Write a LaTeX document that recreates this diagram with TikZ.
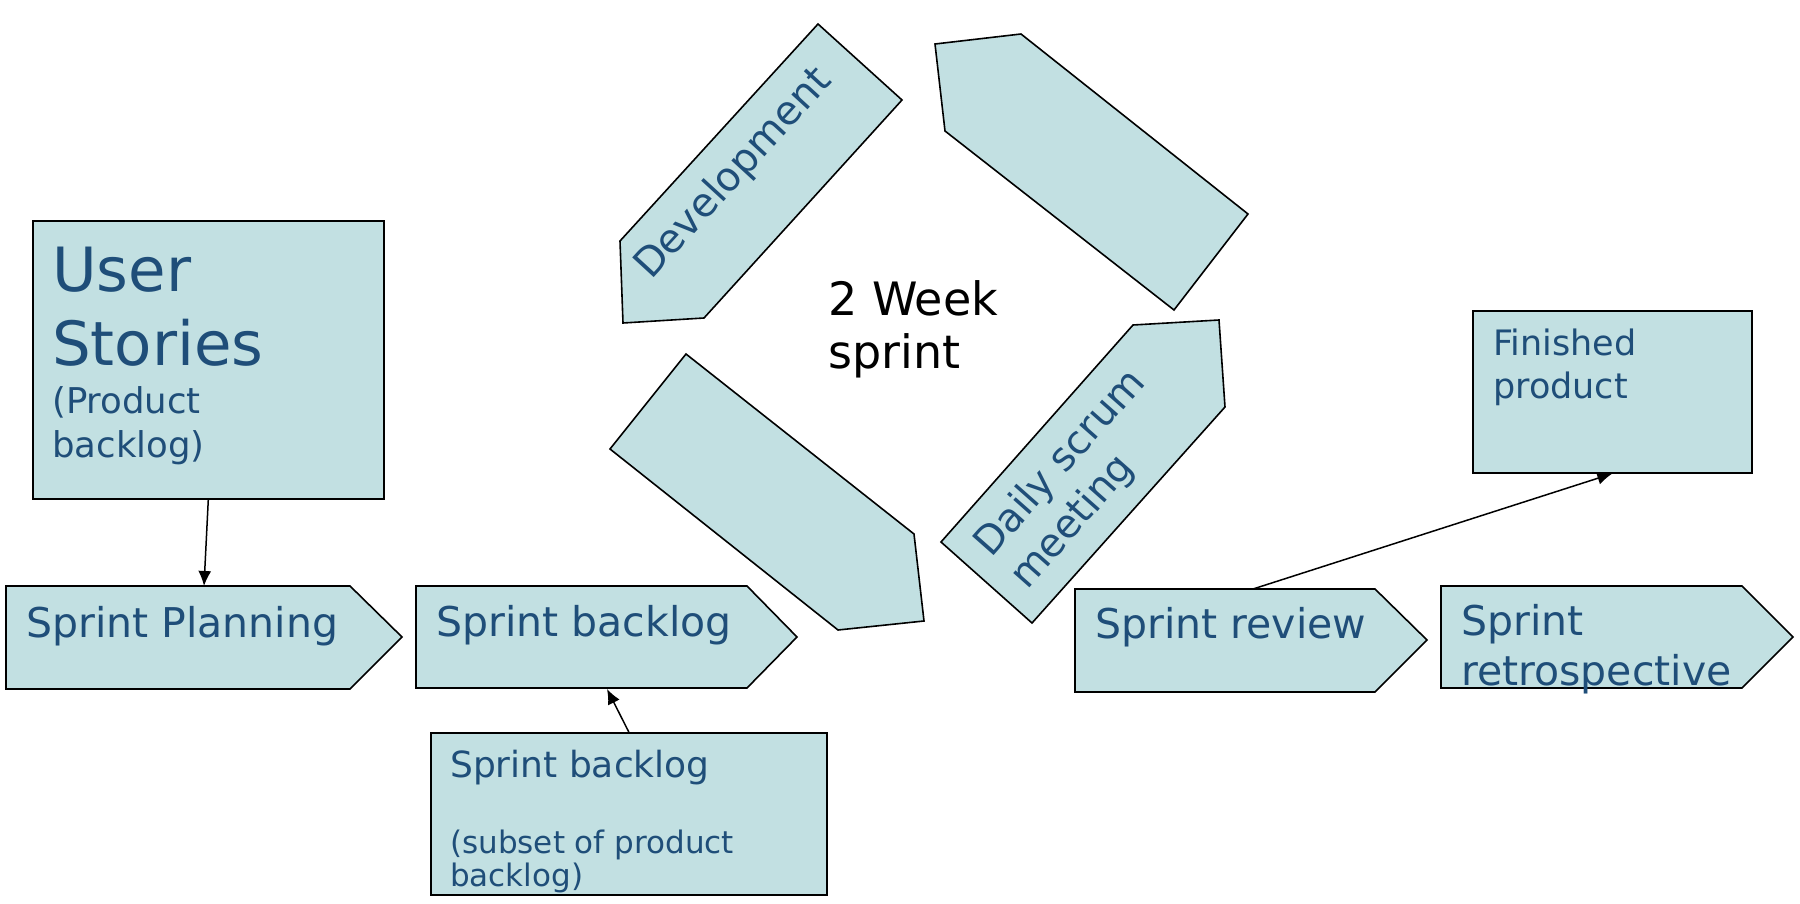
\documentclass[tikz,border=0pt]{standalone}
\usepackage{fontspec}
\setmainfont{DejaVu Sans}
\usetikzlibrary{arrows.meta}
\definecolor{boxfill}{HTML}{C2E0E2}
\definecolor{txtblue}{HTML}{1F4E79}
\newcommand\fsz[1]{\fontsize{#1}{#1}\selectfont}
\begin{document}
\begin{tikzpicture}[x=1pt,y=-1pt,
  shp/.style={draw=black, fill=boxfill, line width=1.6pt, line join=miter},
  rbox/.style={shp, rectangle, inner sep=0pt, anchor=north west},
  lbl/.style={text=txtblue, anchor=base west, inner sep=0pt},
  conn/.style={draw=black, line width=1.5pt, -{Latex[length=15pt,width=13pt]}},
]
\useasboundingbox (0,0) rectangle (1800,904);

% rectangles
\node[rbox, minimum width=351pt, minimum height=278pt] (us) at (32,220) {};
\node[rbox, minimum width=396pt, minimum height=162pt] (lb) at (430,732) {};
\node[rbox, minimum width=279pt, minimum height=162pt] (fp) at (1472,310) {};

% pentagon arrows
\draw[shp] (6,586) -- (350,586) -- (402,637) -- (350,689) -- (6,689) -- cycle;
\draw[shp] (416,586) -- (747,586) -- (797,637) -- (747,688) -- (416,688) -- cycle;
\draw[shp] (1075,589) -- (1375,589) -- (1427,640) -- (1375,692) -- (1075,692) -- cycle;
\draw[shp] (1441,586) -- (1742,586) -- (1793,637) -- (1742,688) -- (1441,688) -- cycle;
\draw[shp] (818,24) -- (902,100) -- (704,318) -- (623,323) -- (620,241) -- cycle;
\draw[shp] (935,44) -- (1021,34) -- (1248,214) -- (1174,310) -- (945,131) -- cycle;
\draw[shp] (686,354) -- (914,534) -- (924,621) -- (838,630) -- (610,449) -- cycle;
\draw[shp] (1133,325) -- (1219,320) -- (1225,407) -- (1032,623) -- (941,542) -- cycle;

% connector end points
\coordinate (spin) at (204,586);
\coordinate (sbin) at (607,689);
\coordinate (srout) at (1253,589);

% texts
\node[lbl, font=\fsz{61}] (t-user) at (52,291) {User};
\node[lbl, font=\fsz{61}] (t-stories) at (52,365) {Stories};
\node[lbl, font=\fsz{35.5}] (t-prod) at (52,413) {(Product};
\node[lbl, font=\fsz{35.5}] (t-back) at (52,457) {backlog)};

\node[lbl, font=\fsz{41}] (t-sp) at (26,637) {Sprint Planning};
\node[lbl, font=\fsz{41}] (t-sb) at (436,636) {Sprint backlog};
\node[lbl, font=\fsz{41}] (t-sr) at (1095,638) {Sprint review};
\node[lbl, font=\fsz{41}] (t-ret1) at (1461,635) {Sprint};
\node[lbl, font=\fsz{41}] (t-ret2) at (1461,685) {retrospective};

\node[lbl, font=\fsz{36}] (t-lb1) at (450,777) {Sprint backlog};
\node[lbl, font=\fsz{31}] (t-lb2) at (450,853) {(subset of product};
\node[lbl, font=\fsz{31}] (t-lb3) at (450,886) {backlog)};

\node[lbl, font=\fsz{35}] (t-fp1) at (1493,355) {Finished};
\node[lbl, font=\fsz{35}] (t-fp2) at (1493,398) {product};

\node[lbl, font=\fsz{46}, text=black] (t-wk1) at (828,316) {2 Week};
\node[lbl, font=\fsz{46}, text=black] (t-wk2) at (828,368) {sprint};

\node[lbl, font=\fsz{40}, rotate=47.5] (t-dev) at (651,281) {Development};
\node[lbl, font=\fsz{39.5}, rotate=48.5] (t-ds1) at (991,559) {Daily scrum};
\node[lbl, font=\fsz{39.5}, rotate=48.5] (t-ds2) at (1027,591) {meeting};

% connectors
\draw[conn] (us.south) -- (spin);
\draw[conn] (lb.north) -- (sbin);
\draw[conn] (srout) -- (fp.south);
\end{tikzpicture}
\end{document}
